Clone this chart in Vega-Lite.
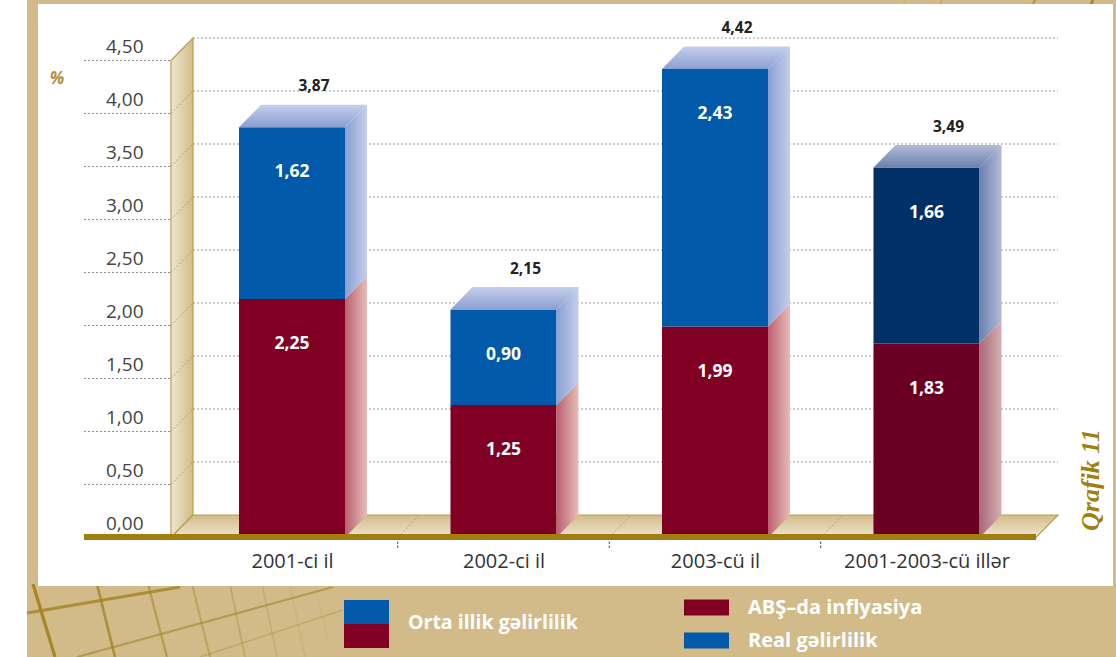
{
"$schema":"https://vega.github.io/schema/vega-lite/v6.json",
"width":1116,"height":657,"padding":0,"autosize":{"type":"none"},"background":"white",
"config":{"view":{"stroke":null},"font":"Open Sans"},
"datasets":{
"bars":[
{"year":"2001-ci il","idx":0,"series":"ABŞ–da inflyasiya","value":2.25},
{"year":"2001-ci il","idx":0,"series":"Real gəlirlilik","value":1.62},
{"year":"2002-ci il","idx":1,"series":"ABŞ–da inflyasiya","value":1.25},
{"year":"2002-ci il","idx":1,"series":"Real gəlirlilik","value":0.90},
{"year":"2003-cü il","idx":2,"series":"ABŞ–da inflyasiya","value":1.99},
{"year":"2003-cü il","idx":2,"series":"Real gəlirlilik","value":2.43},
{"year":"2001-2003-cü illər","idx":3,"series":"ABŞ–da inflyasiya","value":1.83},
{"year":"2001-2003-cü illər","idx":3,"series":"Real gəlirlilik","value":1.66}
],
"levels":[{"v":0},{"v":0.5},{"v":1},{"v":1.5},{"v":2},{"v":2.5},{"v":3},{"v":3.5},{"v":4},{"v":4.5}],
"dividers":[{"d":0.5},{"d":1.5},{"d":2.5}],
"pattern":[
{"a":-1.2246,"b":-0.4387,"a2":-1.1206,"b2":-1.1274,"s":1},
{"a":-0.922,"b":-0.4387,"a2":-0.8369,"b2":-1.1274,"s":0.8},
{"a":-0.6809,"b":-0.4387,"a2":-0.591,"b2":-1.1274,"s":0.6},
{"a":-0.4728,"b":-0.4387,"a2":-0.3877,"b2":-1.1274,"s":0.45},
{"a":-0.2931,"b":-0.4387,"a2":-0.2222,"b2":-1.1274,"s":0.35},
{"a":-0.1418,"b":-0.4387,"a2":-0.0709,"b2":-1.1274,"s":0.25},
{"a":-0.0095,"b":-0.4387,"a2":0.0615,"b2":-1.1274,"s":0.15},
{"a":0.1087,"b":-0.4387,"a2":0.1702,"b2":-0.967,"s":0.08},
{"a":-1.253,"b":-0.7123,"a2":-0.5296,"b2":-0.467,"s":0.85},
{"a":-1.0165,"b":-1.1274,"a2":0.1939,"b2":-0.467,"s":0.6},
{"a":-0.435,"b":-1.1274,"a2":0.2411,"b2":-0.684,"s":0.3},
{"a":2.8983,"b":5.0708,"a2":2.8883,"b2":5.03,"s":0.2},
{"a":3.0733,"b":5.0708,"a2":3.0633,"b2":5.03,"s":0.35},
{"a":3.513,"b":5.0708,"a2":3.503,"b2":5.03,"s":0.7},
{"a":3.7872,"b":5.0708,"a2":3.7772,"b2":5.03,"s":0.9}
]
},
"data":{"name":"bars"},
"transform":[
{"stack":"value","groupby":["idx"],"sort":[{"field":"series","order":"ascending"}],"as":["start","end"]},
{"calculate":"datum.idx-0.2506","as":"xl"},
{"calculate":"datum.idx+0.2506","as":"xr"},
{"calculate":"replace(format(datum.value,'.2f'),'.',',')","as":"valueLabel"},
{"calculate":"replace(format(datum.end,'.2f'),'.',',')","as":"totalLabel"}
],
"layer":[
{"data":{"values":[{"k":1}]},"mark":{"type":"rect","color":"#d2bb88"},
 "encoding":{
  "x":{"datum":-1.253,"type":"quantitative","scale":{"domain":[-1.3806,3.896],"nice":false,"zero":false},"axis":{"values":[0,1,2,3],"labelExpr":"['2001-ci il','2002-ci il','2003-cü il','2001-2003-cü illər'][datum.value]","orient":"bottom","offset":-106,"domain":false,"ticks":false,"grid":false,"title":null,"labelFont":"Open Sans","labelFontSize":20,"labelColor":"#333333","labelPadding":0,"labelBaseline":"top","labelOverlap":false,"labelFlush":false,"labelBound":false,"zindex":2}},
  "x2":{"datum":3.896},
  "y":{"datum":-1.1274,"type":"quantitative","scale":{"domain":[-1.1274,5.0708],"nice":false,"zero":false},"axis":{"values":[0,0.5,1,1.5,2,2.5,3,3.5,4,4.5],"labelExpr":"replace(format(datum.value,'.2f'),'.',',')","orient":"left","offset":-143,"domain":false,"ticks":false,"grid":false,"title":null,"labelFont":"Open Sans","labelFontSize":19,"labelColor":"#444444","labelPadding":0,"labelOffset":-14,"labelOverlap":false,"labelFlush":false,"labelBound":false,"zindex":2}},
  "y2":{"datum":5.0708}}},
{"data":{"name":"pattern"},"mark":{"type":"rule","color":"#a5862a"},
 "encoding":{
  "x":{"field":"a","type":"quantitative"},"x2":{"field":"a2"},
  "y":{"field":"b","type":"quantitative"},"y2":{"field":"b2"},
  "opacity":{"field":"s","type":"quantitative","scale":{"domain":[0,1],"range":[0.05,1]},"legend":null},
  "strokeWidth":{"field":"s","type":"quantitative","scale":{"domain":[0,1],"range":[0.8,3.2]},"legend":null}}},
{"data":{"values":[{"k":1}]},"mark":{"type":"rect","color":"white"},
 "encoding":{"x":{"datum":-1.2009,"type":"quantitative"},"x2":{"datum":3.8818},"y":{"datum":-0.4575,"type":"quantitative"},"y2":{"datum":5.033}}},
{"data":{"values":[{"t":0},{"t":1}]},"transform":[{"calculate":"-0.5721+0.104*datum.t","as":"wx"},{"calculate":"0.2123*datum.t","as":"wy0"},{"calculate":"4.5+0.2123*datum.t","as":"wy1"}],
 "mark":{"type":"area","stroke":"#b5a04f","strokeWidth":1.2,"color":{"gradient":"linear","x1":0,"y1":0,"x2":1,"y2":0,"stops":[{"offset":0,"color":"#efe7d2"},{"offset":1,"color":"#d2bb88"}]}},
 "encoding":{"x":{"field":"wx","type":"quantitative"},"y":{"field":"wy0","type":"quantitative"},"y2":{"field":"wy1"}}},
{"data":{"values":[{"t":0},{"t":1}]},"transform":[{"calculate":"-0.5721+0.104*datum.t","as":"fx0"},{"calculate":"3.5177+0.104*datum.t","as":"fx1"},{"calculate":"0.2123*datum.t","as":"fy"}],
 "mark":{"type":"area","orient":"horizontal","stroke":"#b5a04f","strokeWidth":1.2,"color":{"gradient":"linear","x1":0,"y1":1,"x2":0,"y2":0,"stops":[{"offset":0,"color":"#efe7d2"},{"offset":1,"color":"#d2bb88"}]}},
 "encoding":{"y":{"field":"fy","type":"quantitative"},"x":{"field":"fx0","type":"quantitative"},"x2":{"field":"fx1"}}},
{"data":{"name":"levels"},"transform":[{"filter":"datum.v>0"},{"calculate":"datum.v+0.2123","as":"bv"}],
 "mark":{"type":"rule","color":"#9a9a9a","strokeWidth":1,"strokeDash":[2,2]},
 "encoding":{"x":{"datum":-0.4681,"type":"quantitative"},"x2":{"datum":3.6217},"y":{"field":"bv","type":"quantitative"}}},
{"data":{"name":"levels"},"transform":[{"filter":"datum.v>0"}],
 "mark":{"type":"rule","color":"#8f8f8f","strokeWidth":1,"strokeDash":[2,2]},
 "encoding":{"x":{"datum":-0.98345,"type":"quantitative"},"x2":{"datum":-0.5721},"y":{"field":"v","type":"quantitative"}}},
{"data":{"name":"levels"},"transform":[{"filter":"datum.v>0 && datum.v<4.5"},{"calculate":"datum.v+0.2123","as":"bv"}],
 "mark":{"type":"rule","color":"#b9a35c","strokeWidth":1,"strokeDash":[2,2]},
 "encoding":{"x":{"datum":-0.5721,"type":"quantitative"},"x2":{"datum":-0.4681},"y":{"field":"v","type":"quantitative"},"y2":{"field":"bv"}}},
{"data":{"name":"dividers"},"transform":[{"calculate":"datum.d+0.104","as":"d2"}],
 "mark":{"type":"rule","color":"#b9a35c","strokeWidth":1,"strokeDash":[2,2]},
 "encoding":{"x":{"field":"d","type":"quantitative"},"x2":{"field":"d2"},"y":{"datum":0,"type":"quantitative"},"y2":{"datum":0.2123}}},
{"data":{"name":"dividers"},
 "mark":{"type":"rule","color":"#222222","strokeWidth":1,"strokeDash":[2,2]},
 "encoding":{"x":{"field":"d","type":"quantitative"},"y":{"datum":-0.04,"type":"quantitative"},"y2":{"datum":-0.11}}},
{"transform":[{"filter":"datum.idx<3"}],"mark":{"type":"rect"},
 "encoding":{
  "x":{"field":"xl","type":"quantitative"},
  "x2":{"field":"xr"},
  "y":{"field":"start","type":"quantitative"},
  "y2":{"field":"end"},
  "color":{"field":"series","type":"nominal","scale":{"domain":["ABŞ–da inflyasiya","Real gəlirlilik"],"range":["#800024","#005aa9"]},
   "legend":{"orient":"none","legendX":684,"legendY":585,"title":null,"symbolType":"M-1,-0.355H1V0.355H-1Z","symbolSize":2025,"symbolStrokeWidth":0,"symbolOpacity":1,"rowPadding":-16,"labelFont":"Open Sans","labelFontSize":20,"labelFontWeight":"bold","labelColor":"#ffffff","labelOffset":19,"labelLimit":300}}}},
{"transform":[{"filter":"datum.idx==3"}],"mark":{"type":"rect"},
 "encoding":{"x":{"field":"xl","type":"quantitative"},"x2":{"field":"xr"},"y":{"field":"start","type":"quantitative"},"y2":{"field":"end"},
  "color":{"condition":{"test":"datum.series=='Real gəlirlilik'","value":"#003066"},"value":"#690024"}}},
{"transform":[{"filter":"datum.idx<3 && datum.series!='Real gəlirlilik'"},{"calculate":"[0,1]","as":"t"},{"flatten":["t"]},{"calculate":"datum.xr+0.104*datum.t","as":"sx"},{"calculate":"datum.start+0.2123*datum.t","as":"s0"},{"calculate":"datum.end+0.2123*datum.t","as":"s1"}],
 "mark":{"type":"area","color":{"gradient":"linear","x1":0,"y1":0,"x2":1,"y2":0,"stops":[{"offset":0,"color":"#b9606e"},{"offset":1,"color":"#e6bdb8"}]}},
 "encoding":{"x":{"field":"sx","type":"quantitative"},"y":{"field":"s0","type":"quantitative"},"y2":{"field":"s1"},"detail":{"field":"idx"}}},
{"transform":[{"filter":"datum.idx<3 && datum.series=='Real gəlirlilik'"},{"calculate":"[0,1]","as":"t"},{"flatten":["t"]},{"calculate":"datum.xr+0.104*datum.t","as":"sx"},{"calculate":"datum.start+0.2123*datum.t","as":"s0"},{"calculate":"datum.end+0.2123*datum.t","as":"s1"}],
 "mark":{"type":"area","color":{"gradient":"linear","x1":0,"y1":0,"x2":1,"y2":0,"stops":[{"offset":0,"color":"#8a9ed0"},{"offset":1,"color":"#c4cfec"}]}},
 "encoding":{"x":{"field":"sx","type":"quantitative"},"y":{"field":"s0","type":"quantitative"},"y2":{"field":"s1"},"detail":{"field":"idx"}}},
{"transform":[{"filter":"datum.idx<3 && datum.series=='Real gəlirlilik'"},{"calculate":"[0,1]","as":"t"},{"flatten":["t"]},{"calculate":"datum.xl+0.104*datum.t","as":"tx0"},{"calculate":"datum.xr+0.104*datum.t","as":"tx1"},{"calculate":"datum.end+0.2123*datum.t","as":"ty"}],
 "mark":{"type":"area","orient":"horizontal","color":{"gradient":"linear","x1":0,"y1":1,"x2":0,"y2":0,"stops":[{"offset":0,"color":"#8a9ed0"},{"offset":1,"color":"#c4cfec"}]}},
 "encoding":{"y":{"field":"ty","type":"quantitative"},"x":{"field":"tx0","type":"quantitative"},"x2":{"field":"tx1"},"detail":{"field":"idx"}}},
{"transform":[{"filter":"datum.idx==3 && datum.series!='Real gəlirlilik'"},{"calculate":"[0,1]","as":"t"},{"flatten":["t"]},{"calculate":"datum.xr+0.104*datum.t","as":"sx"},{"calculate":"datum.start+0.2123*datum.t","as":"s0"},{"calculate":"datum.end+0.2123*datum.t","as":"s1"}],
 "mark":{"type":"area","color":{"gradient":"linear","x1":0,"y1":0,"x2":1,"y2":0,"stops":[{"offset":0,"color":"#a9687a"},{"offset":1,"color":"#d2b0b2"}]}},
 "encoding":{"x":{"field":"sx","type":"quantitative"},"y":{"field":"s0","type":"quantitative"},"y2":{"field":"s1"},"detail":{"field":"idx"}}},
{"transform":[{"filter":"datum.idx==3 && datum.series=='Real gəlirlilik'"},{"calculate":"[0,1]","as":"t"},{"flatten":["t"]},{"calculate":"datum.xr+0.104*datum.t","as":"sx"},{"calculate":"datum.start+0.2123*datum.t","as":"s0"},{"calculate":"datum.end+0.2123*datum.t","as":"s1"}],
 "mark":{"type":"area","color":{"gradient":"linear","x1":0,"y1":0,"x2":1,"y2":0,"stops":[{"offset":0,"color":"#6c80ad"},{"offset":1,"color":"#b2bbd8"}]}},
 "encoding":{"x":{"field":"sx","type":"quantitative"},"y":{"field":"s0","type":"quantitative"},"y2":{"field":"s1"},"detail":{"field":"idx"}}},
{"transform":[{"filter":"datum.idx==3 && datum.series=='Real gəlirlilik'"},{"calculate":"[0,1]","as":"t"},{"flatten":["t"]},{"calculate":"datum.xl+0.104*datum.t","as":"tx0"},{"calculate":"datum.xr+0.104*datum.t","as":"tx1"},{"calculate":"datum.end+0.2123*datum.t","as":"ty"}],
 "mark":{"type":"area","orient":"horizontal","color":{"gradient":"linear","x1":0,"y1":1,"x2":0,"y2":0,"stops":[{"offset":0,"color":"#6c80ad"},{"offset":1,"color":"#b2bbd8"}]}},
 "encoding":{"y":{"field":"ty","type":"quantitative"},"x":{"field":"tx0","type":"quantitative"},"x2":{"field":"tx1"},"detail":{"field":"idx"}}},
{"data":{"values":[{"k":1}]},"mark":{"type":"rule","color":"#a07f10","strokeWidth":6},
 "encoding":{"x":{"datum":-0.98345,"type":"quantitative"},"x2":{"datum":3.5177},"y":{"datum":0.005,"type":"quantitative"}}},
{"mark":{"type":"text","color":"#ffffff","fontWeight":"bold","fontSize":17.5,"font":"Open Sans","dy":45,"baseline":"middle"},
 "encoding":{"x":{"field":"idx","type":"quantitative"},"y":{"field":"end","type":"quantitative"},"text":{"field":"valueLabel"}}},
{"transform":[{"filter":"datum.series=='Real gəlirlilik'"}],"mark":{"type":"text","color":"#222222","fontWeight":"bold","fontSize":15.5,"font":"Open Sans","dy":-41,"dx":22,"baseline":"middle"},
 "encoding":{"x":{"field":"idx","type":"quantitative"},"y":{"field":"end","type":"quantitative"},"text":{"field":"totalLabel"}}},
{"data":{"values":[{"k":1}]},"mark":{"type":"text","text":"Qrafik 11","angle":270,"font":"Liberation Serif","fontStyle":"italic","fontWeight":"bold","fontSize":26,"color":"#a07f10","baseline":"middle","align":"center"},
 "encoding":{"x":{"datum":3.778,"type":"quantitative"},"y":{"datum":0.5425,"type":"quantitative"}}},
{"data":{"values":[{"k":1}]},"mark":{"type":"text","text":"%","font":"Open Sans","fontStyle":"italic","fontWeight":"bold","fontSize":17,"color":"#b3913a","baseline":"middle","align":"center"},
 "encoding":{"x":{"datum":-1.111,"type":"quantitative"},"y":{"datum":4.325,"type":"quantitative"}}},
{"data":{"values":[{"k":1}]},"mark":{"type":"rect","color":"#005aa9"},
 "encoding":{"x":{"datum":0.2459,"type":"quantitative"},"x2":{"datum":0.4586},"y":{"datum":-0.5896,"type":"quantitative"},"y2":{"datum":-0.816}}},
{"data":{"values":[{"k":1}]},"mark":{"type":"rect","color":"#800024"},
 "encoding":{"x":{"datum":0.2459,"type":"quantitative"},"x2":{"datum":0.4586},"y":{"datum":-0.816,"type":"quantitative"},"y2":{"datum":-1.0425}}},
{"data":{"values":[{"k":1}]},"mark":{"type":"text","text":"Orta illik gəlirlilik","font":"Open Sans","fontWeight":"bold","fontSize":19.5,"color":"#ffffff","baseline":"middle","align":"left"},
 "encoding":{"x":{"datum":0.5485,"type":"quantitative"},"y":{"datum":-0.8066,"type":"quantitative"}}}
]
}
